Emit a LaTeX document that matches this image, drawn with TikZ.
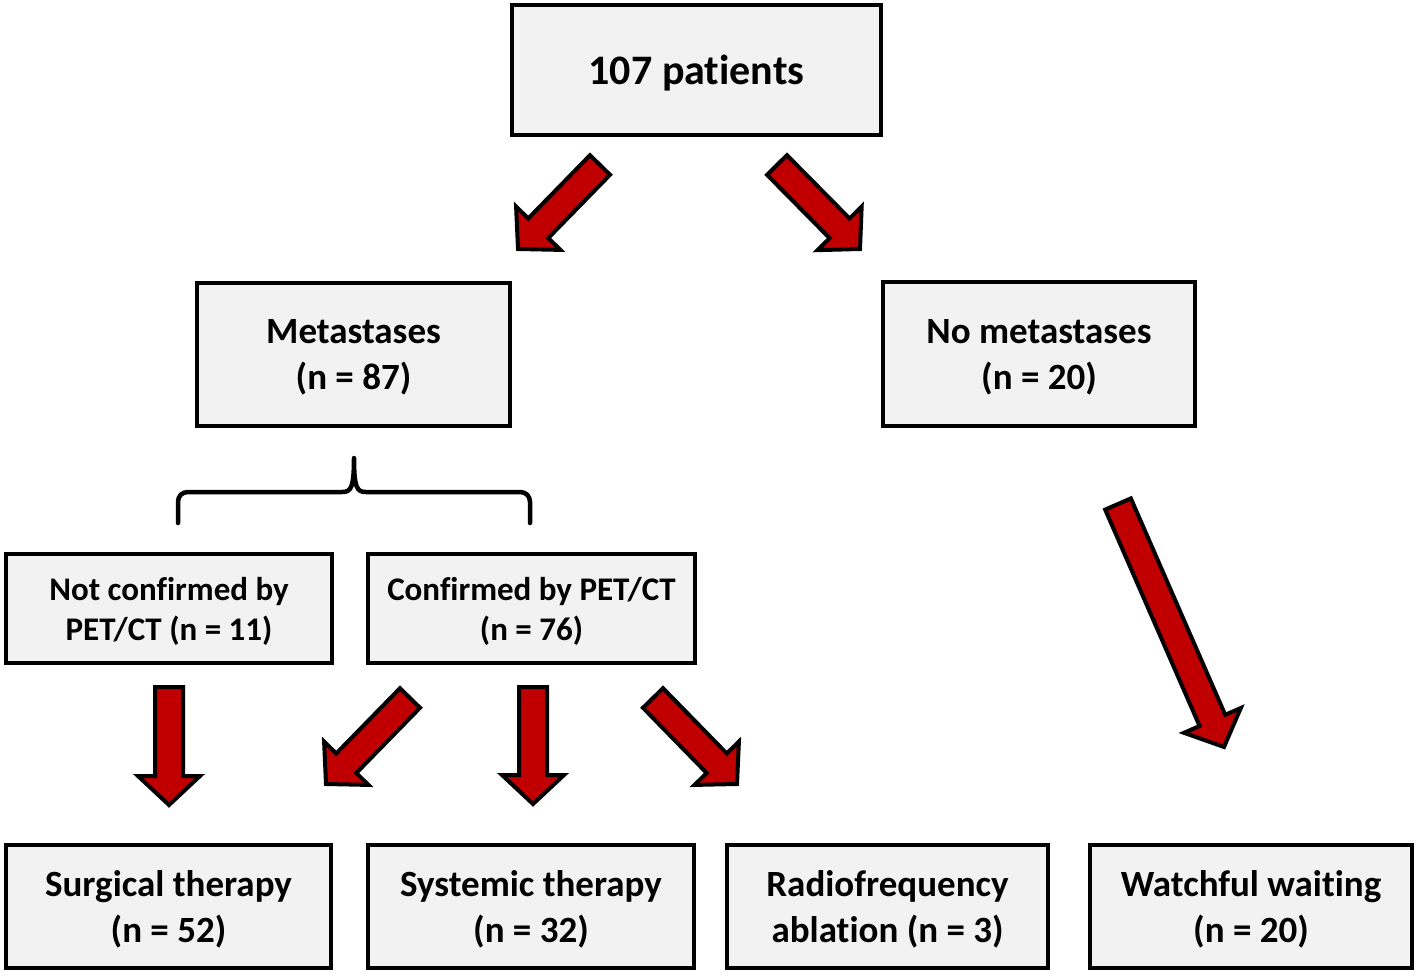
\documentclass[tikz,border=0pt]{standalone}
\usepackage{fontspec}
\setmainfont{Carlito}[Ligatures=NoCommon]
\usetikzlibrary{calc}
\definecolor{boxfill}{HTML}{F2F2F2}
\definecolor{arrred}{HTML}{C00000}
\tikzset{
  box/.style={draw=black, line width=4pt, fill=boxfill, rectangle, inner sep=0pt, align=center,
    font=\bfseries\fontsize{37}{46}\selectfont, text depth=0pt},
  smallbox/.style={box, font=\bfseries\fontsize{33}{40}\selectfont, text depth=0pt},
  bigarrow/.style={draw=black, fill=arrred, line width=4pt, line join=miter, miter limit=10},
  bracestyle/.style={draw=black, line width=4.5pt, line cap=round, line join=round}
}
\newcommand\blockarrow[2]{%
  \path let \p1=(#1), \p2=(#2) in \pgfextra{%
    \pgfmathsetmacro\myang{atan2(\y2-\y1,\x2-\x1)}%
    \pgfmathsetmacro\mylen{veclen(\x2-\x1,\y2-\y1)}%
    \xdef\bang{\myang}\xdef\blen{\mylen}\xdef\bx{\x1}\xdef\by{\y1}};
  \draw[bigarrow, shift={(\bx,\by)}, rotate=\bang]
    (0pt,-14pt) -- ({\blen pt-29pt},-14pt) -- ({\blen pt-29pt},-31pt) -- ({\blen pt},0pt)
    -- ({\blen pt-29pt},31pt) -- ({\blen pt-29pt},14pt) -- (0pt,14pt) -- cycle;
}
\begin{document}
\begin{tikzpicture}[x=1pt, y=-1pt]
\useasboundingbox (0,0) rectangle (1418,978);

\node[box, minimum width=369pt, minimum height=130pt, font=\bfseries\fontsize{42}{50}\selectfont, text depth=0pt] (top) at (696.5,70) {107 patients};
\node[box, minimum width=313pt, minimum height=143pt] (meta) at (353.5,354.5) {Metastases\\(n = 87)};
\node[box, minimum width=312pt, minimum height=144pt] (nometa) at (1039,354) {No metastases\\(n = 20)};
\node[smallbox, minimum width=326pt, minimum height=109pt] (notconf) at (169,608.5) {Not confirmed by\\PET/CT (n = 11)};
\node[smallbox, minimum width=327pt, minimum height=109pt] (conf) at (531.5,608.5) {Confirmed by PET/CT\\(n = 76)};
\node[box, minimum width=325pt, minimum height=123pt] (surg) at (168.5,906.5) {Surgical therapy\\(n = 52)};
\node[box, minimum width=326pt, minimum height=123pt] (syst) at (531,906.5) {Systemic therapy\\(n = 32)};
\node[box, minimum width=321pt, minimum height=123pt] (rfa) at (887.5,906.5) {Radiofrequency\\ablation (n = 3)};
\node[box, minimum width=322pt, minimum height=123pt] (watch) at (1251,906.5) {Watchful waiting\\(n = 20)};

% arrow end points
\coordinate (a1s) at (600,165); \coordinate (a1e) at (518,249);
\coordinate (a2s) at (777,165); \coordinate (a2e) at (860,249);
\coordinate (a3s) at (169,687); \coordinate (a3e) at (169,805);
\coordinate (a4s) at (410,698); \coordinate (a4e) at (326,784);
\coordinate (a5s) at (533,687); \coordinate (a5e) at (533,804);
\coordinate (a6s) at (653,698); \coordinate (a6e) at (737,784);
\coordinate (a7s) at (1118,504); \coordinate (a7e) at (1224,747);

\blockarrow{a1s}{a1e}
\blockarrow{a2s}{a2e}
\blockarrow{a3s}{a3e}
\blockarrow{a4s}{a4e}
\blockarrow{a5s}{a5e}
\blockarrow{a6s}{a6e}
\blockarrow{a7s}{a7e}

% brace
\draw[bracestyle] (178,523) -- (178,502) .. controls (178,496) and (182,492) .. (188,492)
  -- (342,492) .. controls (351,492) and (354,488) .. (354,458)
  .. controls (354,488) and (357,492) .. (366,492) -- (520,492)
  .. controls (526,492) and (530,496) .. (530,502) -- (530,523);
\end{tikzpicture}
\end{document}
